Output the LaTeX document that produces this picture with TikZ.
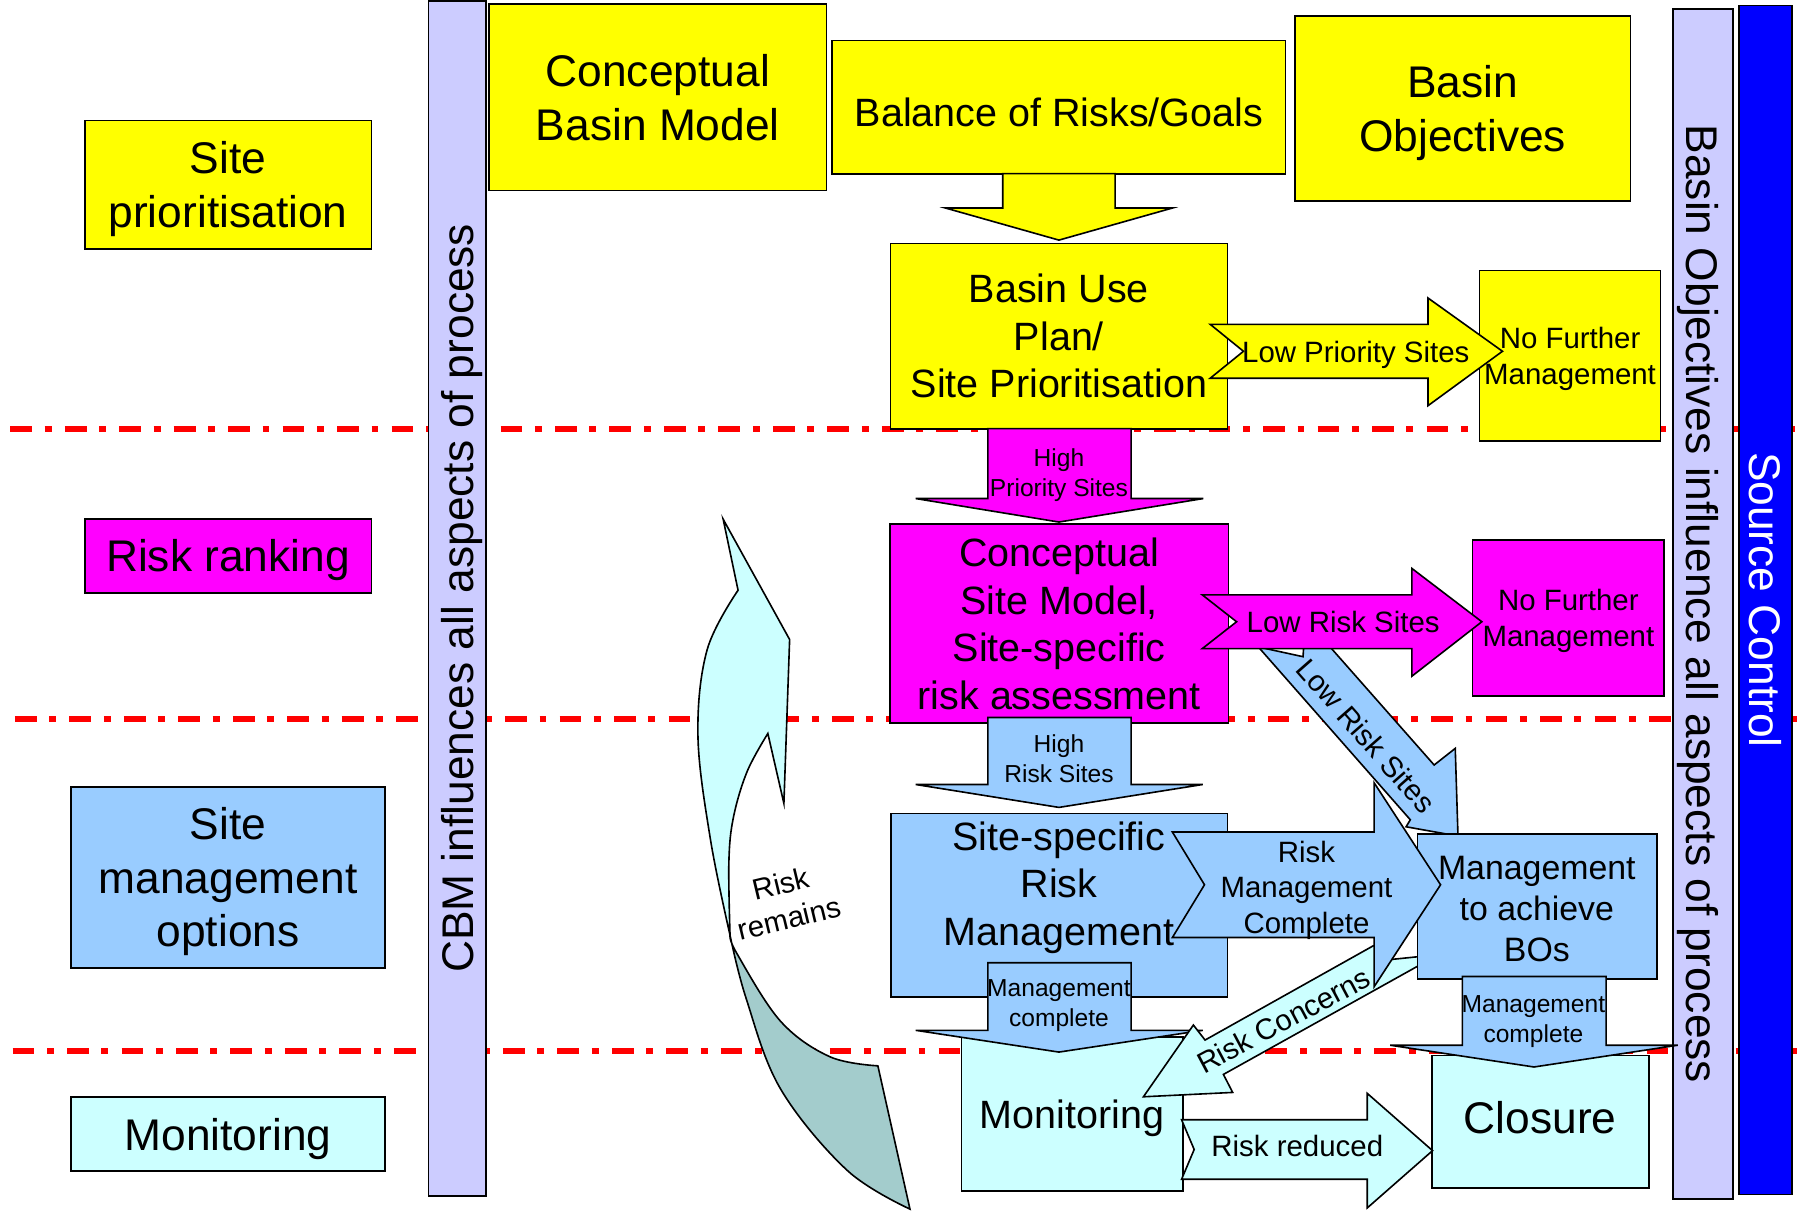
\documentclass[tikz,border=0pt]{standalone}
\usepackage{fontspec}
\setmainfont{Liberation Sans}
\usetikzlibrary{positioning}
\definecolor{cyellow}{HTML}{FFFF00}
\definecolor{cmagenta}{HTML}{FF00FF}
\definecolor{cblue}{HTML}{99CCFF}
\definecolor{ccyan}{HTML}{CCFFFF}
\definecolor{cteal}{HTML}{A3CCCC}
\definecolor{clavender}{HTML}{CCCCFF}
\definecolor{cdeep}{HTML}{0000FF}
\tikzset{%
	block/.style    = {draw, rectangle, inner sep=0pt, align=center},
	bar/.style      = {draw, rectangle, inner sep=0pt},
	lbl/.style      = {inner sep=0pt, align=center},
	bigtxt/.style   = {font=\fontsize{11}{13.3}\selectfont, text depth=0pt},
	midtxt/.style   = {font=\fontsize{9.8}{11.8}\selectfont, text depth=0pt},
	bostxt/.style   = {font=\fontsize{8.4}{10.2}\selectfont, text depth=0pt},
	smltxt/.style   = {font=\fontsize{7.3}{8.8}\selectfont, text depth=0pt},
	tinytxt/.style  = {font=\fontsize{6.1}{7.4}\selectfont, text depth=0pt},
	blockarrow/.style = {draw, line join=miter},
	divider/.style  = {red, line width=1.45pt, dash pattern=on 0.19cm off 0.11cm on 0.06cm off 0.115cm},
}
\begin{document}
\begin{tikzpicture}[x=0.01cm, y=-0.01cm]
	\useasboundingbox (0,0) rectangle (1568,1056);
	% phase dividers
	\draw[divider] (9,374.5) -- (1568,374.5);
	\draw[divider] (13,627) -- (1568,627);
	\draw[divider] (11,917) -- (1568,917);

	% phase labels
	\node [block, bigtxt, fill=cyellow, minimum width=2.50cm, minimum height=1.12cm] (sitepri) at (199,161) {Site\\prioritisation};
	\node [block, bigtxt, fill=cmagenta, minimum width=2.50cm, minimum height=0.645cm] (riskrank) at (199,485) {Risk ranking};
	\node [block, bigtxt, fill=cblue, minimum width=2.74cm, minimum height=1.58cm] (sitemgmt) at (199,765.5) {Site\\management\\options};
	\node [block, bigtxt, fill=ccyan, minimum width=2.74cm, minimum height=0.65cm] (monleft) at (199,989.5) {Monitoring};

	% side bars
	\node [bar, fill=clavender, minimum width=0.50cm, minimum height=10.42cm] (cbmbar) at (399,522) {};
	\node [bigtxt, rotate=90] (cbmtxt) at (cbmbar.center) {CBM influences all aspects of process};
	\node [bar, fill=clavender, minimum width=0.52cm, minimum height=10.38cm] (bobar) at (1486,527) {};
	\node [bigtxt, rotate=-90] (botxt) at (bobar.center) {Basin Objectives influence all aspects of process};
	\node [bar, fill=cdeep, minimum width=0.465cm, minimum height=10.37cm] (scbar) at (1540.5,523.5) {};
	\node [bigtxt, rotate=-90, text=white] (sctxt) at (scbar.center) {Source Control};

	% top row
	\node [block, bigtxt, fill=cyellow, minimum width=2.94cm, minimum height=1.625cm] (cbm) at (574,84.75) {Conceptual\\Basin Model};
	\node [block, fill=cyellow, minimum width=3.955cm, minimum height=1.165cm] (balance) at (923.75,93.75) {};
	\node [lbl, midtxt] (balancetxt) at (924,97.5) {Balance of Risks/Goals};
	\node [block, bigtxt, fill=cyellow, minimum width=2.925cm, minimum height=1.615cm] (basinobj) at (1276.25,94.5) {Basin\\Objectives};
	\filldraw[blockarrow, fill=cyellow] (875,151.5) -- (875,181.5) -- (825,181.5) -- (924,209.5) -- (1023,181.5) -- (973,181.5) -- (973,151.5) -- cycle;

	% prioritisation
	\node [block, midtxt, fill=cyellow, minimum width=2.94cm, minimum height=1.615cm] (basinuse) at (924,293.25) {Basin Use\\Plan/\\Site Prioritisation};
	\node [block, smltxt, fill=cyellow, minimum width=1.58cm, minimum height=1.49cm] (nfmyellow) at (1370,310.5) {No Further\\Management};
	\filldraw[blockarrow, fill=cyellow] (1056,283) -- (1246,283) -- (1246,260) -- (1311,306.5) -- (1246,354) -- (1246,330) -- (1056,330) -- (1085,306.5) -- cycle;
	\node [lbl, smltxt] (lowprio) at (1183,307) {Low Priority Sites};
	\filldraw[blockarrow, fill=cmagenta] (862,374) -- (862,435) -- (799,435) -- (924,455.5) -- (1050,435) -- (987,435) -- (987,374) -- cycle;
	\node [lbl, tinytxt] (highprio) at (924,412) {High\\Priority Sites};

	% risk ranking
	\node [block, midtxt, fill=cmagenta, minimum width=2.955cm, minimum height=1.735cm] (csm) at (924.25,544) {Conceptual\\Site Model,\\Site-specific\\risk assessment};
	\node [block, smltxt, fill=cmagenta, minimum width=1.67cm, minimum height=1.36cm] (nfmmagenta) at (1368.5,539) {No Further\\Management};
	\filldraw[blockarrow, fill=cblue] (1098,564.5) -- (1137,573) -- (1139,540) -- (1251.4,667.5) -- (1269.8,653) -- (1272.2,729.5) -- (1226.9,721.4) -- (1230.6,715.3) -- cycle;
	\node [lbl, smltxt, rotate=-48.7] (lowriskdiag) at (1192,642) {Low Risk Sites};
	\filldraw[blockarrow, fill=cmagenta] (1049,519) -- (1232,519) -- (1232,496) -- (1293,542.5) -- (1232,590) -- (1232,566) -- (1049,566) -- (1079,542.5) -- cycle;
	\node [lbl, smltxt] (lowrisk) at (1172,543) {Low Risk Sites};
	\filldraw[blockarrow, fill=cblue] (862,626) -- (862,684.5) -- (799,684.5) -- (924,704.5) -- (1049.5,684.5) -- (987,684.5) -- (987,626) -- cycle;
	\node [lbl, tinytxt] (highrisk) at (924,662) {High\\Risk Sites};

	% management and monitoring
	\node [block, fill=cblue, minimum width=2.935cm, minimum height=1.60cm] (ssrm) at (924.25,790) {};
	\node [lbl, midtxt] (ssrmtxt) at (924,771) {Site-specific\\Risk\\Management};
	\node [block, midtxt, fill=ccyan, minimum width=1.93cm, minimum height=1.34cm] (moncentre) at (935.5,972) {Monitoring};
	\node [block, fill=ccyan, minimum width=1.895cm, minimum height=1.155cm] (closure) at (1344.25,978.75) {};
	\node [lbl, bigtxt] (closuretxt) at (1344,975) {Closure};
	\filldraw[blockarrow, fill=cblue] (862,840) -- (862,899) -- (799,899) -- (924,918) -- (1049.5,899) -- (987,899) -- (987,840) -- cycle;
	\node [lbl, tinytxt] (mgmtdone) at (924,875) {Management\\complete};
	\filldraw[blockarrow, fill=ccyan] (997.7,957) -- (1041.3,894.4) -- (1051.5,907.5) -- (1197.8,825.5) -- (1208.5,822) -- (1214.7,837.1) -- (1245,834) -- (1245,838.6) -- (1067.5,937.5) -- (1075.6,953.2) -- cycle;
	\node [lbl, smltxt, rotate=28] (concerns) at (1120,890) {Risk Concerns};
	\node [block, fill=cblue, minimum width=2.09cm, minimum height=1.26cm] (bos) at (1341.5,791) {};
	\node [lbl, bostxt] (bostxt) at (1341,793) {Management\\to achieve\\BOs};
	\filldraw[blockarrow, fill=cblue] (1023,726) -- (1199,726) -- (1199,683) -- (1257,772) -- (1199,861) -- (1199,818) -- (1023,818) -- (1051,772) -- cycle;
	\node [lbl, smltxt] (rmcdone) at (1140,774) {Risk\\Management\\Complete};
	\filldraw[blockarrow, fill=cblue] (1276,852) -- (1276,912) -- (1213,912) -- (1338.5,931) -- (1464,912) -- (1401.5,912) -- (1401.5,852) -- cycle;
	\node [lbl, tinytxt] (bosdone) at (1338,889) {Management\\complete};
	\filldraw[blockarrow, fill=ccyan] (1031,977) -- (1193,977) -- (1193,954) -- (1250,1004) -- (1193,1054) -- (1193,1029) -- (1031,1029) -- (1042,1003) -- cycle;
	\node [lbl, smltxt] (reduced) at (1132,1000) {Risk reduced};

	% risk remains loop
	\filldraw[blockarrow, fill=cteal] plot[smooth, tension=0.6] coordinates {(637,816) (651,871) (681,950) (739,1021) (794,1055)} -- (766,930) -- plot[smooth, tension=0.6] coordinates {(766,930) (724,922) (681,891) (643,832) (637,816)} -- cycle;
	\filldraw[blockarrow, fill=ccyan] plot[smooth, tension=0.6] coordinates {(637,816) (620,733) (609,642) (617,567) (644,515)} -- (631,453) -- (689,558) -- (684,701) -- plot[smooth, tension=0.6] coordinates {(670,640) (652,673) (640,713) (636,752) (637,816)} -- cycle;
	\node [lbl, smltxt, rotate=13.5] (remains) at (685,786) {Risk\\remains};
\end{tikzpicture}
\end{document}
